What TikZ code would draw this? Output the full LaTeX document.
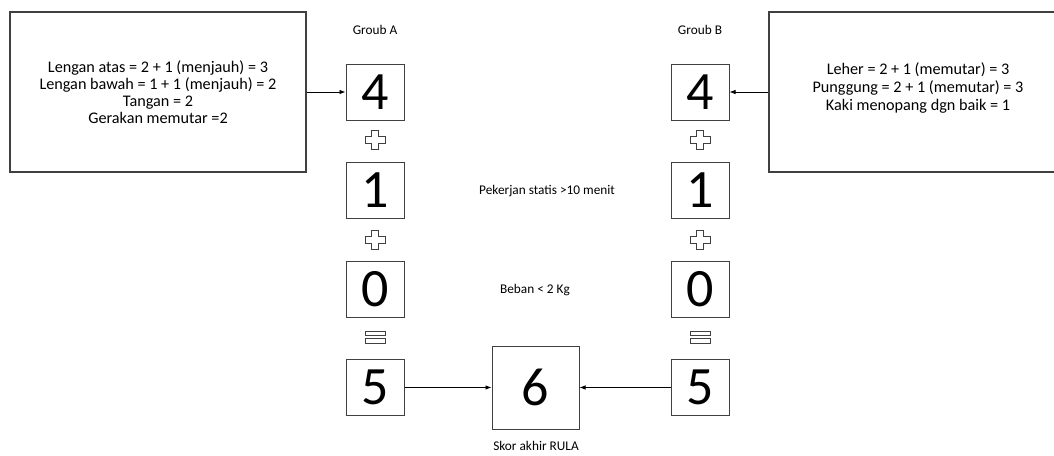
\documentclass[tikz,border=0pt]{standalone}
\usepackage{fontspec}
\setmainfont{Carlito}
\usetikzlibrary{arrows.meta}
\definecolor{edge}{HTML}{404040}
\tikzset{
  x=1pt, y=-1pt,
  bigbox/.style={draw=edge, line width=1.1pt, minimum width=296pt, minimum height=160pt, inner sep=0pt, align=center, font=\fontsize{16.2}{17.2}\selectfont},
  numbox/.style={draw=edge, line width=1pt, minimum width=58pt, minimum height=56pt, inner sep=0pt, font=\fontsize{54}{54}\selectfont},
  resbox/.style={draw=edge, line width=1pt, minimum width=87pt, minimum height=83pt, inner sep=0pt, font=\fontsize{54}{54}\selectfont},
  lbl/.style={inner sep=0pt, font=\fontsize{13.3}{15}\selectfont},
  conn/.style={line width=0.8pt, draw=black, -{Latex[length=6pt,width=4.5pt]}},
  plussign/.pic={\draw[edge, line width=0.8pt] (-3.2,-9.5)--(3.2,-9.5)--(3.2,-3.2)--(10,-3.2)--(10,3.2)--(3.2,3.2)--(3.2,9.5)--(-3.2,9.5)--(-3.2,3.2)--(-10,3.2)--(-10,-3.2)--(-3.2,-3.2)--cycle;},
  eqsign/.pic={\draw[edge, line width=0.8pt] (-10,-5.8) rectangle (10,-1.8) (-10,1.2) rectangle (10,5.6);}
}
\begin{document}
\begin{tikzpicture}
\useasboundingbox (0,0) rectangle (1054,455);
\fill[white] (0,0) rectangle (1054,455);

\node[bigbox] (leftbox) at (158,92) {Lengan atas = 2 + 1 (menjauh) = 3\\Lengan bawah = 1 + 1 (menjauh) = 2\\Tangan = 2\\Gerakan memutar =2};
\node[bigbox, minimum width=298pt] (rightbox) at (918,92) {};
\node[align=center, inner sep=0pt, font=\fontsize{16.2}{17.8}\selectfont] (righttext) at (918,88) {Leher = 2 + 1 (memutar) = 3\\Punggung = 2 + 1 (memutar) = 3\\Kaki menopang dgn baik = 1};

\node[lbl] (ga) at (375,30) {Groub A};
\node[lbl] (gb) at (700,30) {Groub B};

\node[numbox] (a4) at (375,92) {4};
\node[numbox] (a1) at (375,190) {1};
\node[numbox] (a0) at (375,289) {0};
\node[numbox] (a5) at (375,387.5) {5};

\node[numbox] (b4) at (700,92) {4};
\node[numbox] (b1) at (700,190) {1};
\node[numbox] (b0) at (700,289) {0};
\node[numbox] (b5) at (700,387.5) {5};

\node[resbox] (c6) at (535.5,387.5) {6};

\pic at (375,140) {plussign};
\pic at (375,240) {plussign};
\pic at (375,337.5) {eqsign};
\pic at (700,140) {plussign};
\pic at (700,240) {plussign};
\pic at (700,337.5) {eqsign};

\node[lbl] (static) at (547,191) {Pekerjan statis >10 menit};
\node[lbl] (beban) at (535,290) {Beban < 2 Kg};
\node[lbl] (skor) at (536,446) {Skor akhir RULA};

\draw[conn] (leftbox.east) -- (a4.west);
\draw[conn] (rightbox.west) -- (b4.east);
\draw[conn] (a5.east) -- (c6.west);
\draw[conn] (b5.west) -- (c6.east);
\end{tikzpicture}
\end{document}
